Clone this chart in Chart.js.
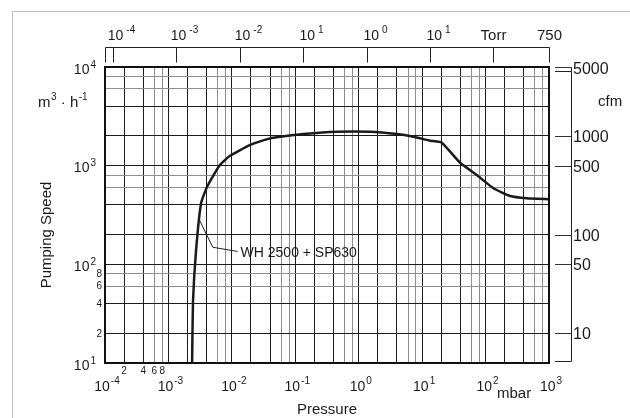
<!DOCTYPE html>
<html>
<head>
<meta charset="utf-8">
<script src="https://cdn.jsdelivr.net/npm/chart.js@4.4.0/dist/chart.umd.min.js"></script>
<style>
  html, body { margin: 0; padding: 0; background: #fff; }
  #wrap { width: 630px; height: 418px; }
</style>
</head>
<body>
<div id="wrap"><canvas id="speedChart" width="630" height="418"></canvas></div>
<script>
// WH 2500 + SP630 pumping speed curve (mbar, m3/h)
const pressureMbar = [2.36e-3, 2.44e-3, 2.73e-3, 3.27e-3, 4.07e-3, 6.2e-3, 8.9e-3, 1.95e-2, 4.0e-2, 5.8e-2,
                      0.135, 0.45, 1.5, 4.0, 7.3, 13.4, 20.4, 39.6, 72.6, 133, 243, 446, 1000];
const speedM3h = [10, 42, 140, 416, 612, 977, 1233, 1622, 1890, 1964,
                  2094, 2209, 2209, 2094, 1964, 1791, 1710, 1071, 805, 590, 493, 468, 457];

// leader line from the curve to its label
const leaderPressure = [3.08e-3, 5.0e-3, 1.23e-2];
const leaderSpeed = [282, 149, 135];
const curveLabel = 'WH 2500 + SP630';

const xDecades = [-4, -3, -2, -1, 0, 1, 2, 3];
const yDecades = [1, 2, 3, 4];
const gridSteps = [1, 2, 4, 6, 8];
const xMinorLabels = [2e-4, 4e-4, 6e-4, 8e-4];
const yMinorLabels = [20, 40, 60, 80];

const torrTicks = [1e-4, 1e-3, 1e-2, 1e-1, 1, 10, 100, 750];
const torrLabels = [['10', '-4'], ['10', '-3'], ['10', '-2'], ['10', '1'], ['10', '0'], ['10', '1'], ['Torr', ''], ['750', '']];
const mbarPerTorr = 1.33322;

const cfmTicks = [5000, 1000, 500, 100, 50, 10];
const m3hPerCfm = 2; // as printed on the sheet

const FONT = '"Liberation Sans", Arial, Helvetica, sans-serif';

function gridValues(decades, max) {
    const out = [];
    decades.forEach(d => {
        gridSteps.forEach(s => {
            const v = s * Math.pow(10, d);
            if (v <= max * 1.0001) out.push(v);
        });
    });
    return out;
}

function gridColor(ctx) {
    const v = ctx.tick.value;
    const m = Math.round(v / Math.pow(10, Math.floor(Math.log10(v) + 1e-9)));
    return m >= 6 ? '#8e8e8e' : '#1c1c1c';
}

function pow(ctx, x, y, base, exp, align, baseSize, expSize, gap, rise) {
    ctx.font = baseSize + 'px ' + FONT;
    const wb = ctx.measureText(base).width;
    ctx.font = expSize + 'px ' + FONT;
    const we = exp ? ctx.measureText(exp).width : 0;
    const total = wb + (exp ? gap + we : 0);
    let x0 = x;
    if (align === 'center') x0 = x - total / 2;
    if (align === 'right') x0 = x - total;
    ctx.textAlign = 'left';
    ctx.textBaseline = 'alphabetic';
    ctx.font = baseSize + 'px ' + FONT;
    ctx.fillText(base, x0, y);
    if (exp) {
        ctx.font = expSize + 'px ' + FONT;
        ctx.fillText(exp, x0 + wb + gap, y - rise);
    }
}

const sheetPlugin = {
    id: 'sheet',
    afterDraw(chart) {
        const ctx = chart.ctx;
        const xs = chart.scales.x;
        const ys = chart.scales.y;
        const area = chart.chartArea;
        ctx.save();

        // light frame of the figure
        ctx.strokeStyle = '#bdbdbd';
        ctx.lineWidth = 1;
        ctx.beginPath();
        ctx.moveTo(12.5, 418);
        ctx.lineTo(12.5, 11.5);
        ctx.lineTo(630, 11.5);
        ctx.stroke();

        // plot border
        ctx.strokeStyle = '#111';
        ctx.lineWidth = 2;
        ctx.strokeRect(area.left, area.top, area.right - area.left, area.bottom - area.top);

        ctx.fillStyle = '#1a1a1a';

        // top Torr axis
        const topY = 47.5, tickEnd = 62.5;
        ctx.strokeStyle = '#222';
        ctx.lineWidth = 1;
        ctx.beginPath();
        ctx.moveTo(Math.round(area.left) + 0.5, tickEnd);
        ctx.lineTo(Math.round(area.left) + 0.5, topY);
        ctx.lineTo(Math.round(xs.getPixelForValue(Math.min(750 * mbarPerTorr, 1000))) + 0.5, topY);
        ctx.stroke();
        torrTicks.forEach((t, i) => {
            const px = Math.round(xs.getPixelForValue(Math.min(t * mbarPerTorr, 1000))) + 0.5;
            ctx.beginPath();
            ctx.moveTo(px, topY);
            ctx.lineTo(px, tickEnd);
            ctx.stroke();
            const lab = torrLabels[i];
            if (lab[1]) {
                pow(ctx, px + 8, 39.5, lab[0], lab[1], 'center', 14, 10, 3, 7);
            } else {
                pow(ctx, px, 39.5, lab[0], '', 'center', 15, 10, 0, 0);
            }
        });

        // right cfm axis
        const axX = 571.5, tickStart = 555;
        ctx.beginPath();
        ctx.moveTo(tickStart, area.top + 0.5);
        ctx.lineTo(axX, area.top + 0.5);
        ctx.lineTo(axX, area.bottom - 1.5);
        ctx.lineTo(tickStart, area.bottom - 1.5);
        ctx.stroke();
        ctx.beginPath();
        ctx.moveTo(tickStart, area.top + 4.5);
        ctx.lineTo(axX, area.top + 4.5);
        ctx.stroke();
        cfmTicks.forEach(c => {
            const py = Math.round(ys.getPixelForValue(c * m3hPerCfm)) + 0.5;
            ctx.strokeStyle = '#333';
            ctx.beginPath();
            ctx.moveTo(tickStart, py);
            ctx.lineTo(axX, py);
            ctx.stroke();
            ctx.font = '16px ' + FONT;
            ctx.textAlign = 'left';
            ctx.textBaseline = 'middle';
            ctx.fillText(String(c), 573, py + (c === 5000 ? 2 : 1));
        });
        ctx.font = '15px ' + FONT;
        ctx.textAlign = 'left';
        ctx.textBaseline = 'alphabetic';
        ctx.fillText('cfm', 598, 106);

        // left axis labels
        yDecades.forEach(d => {
            const py = ys.getPixelForValue(Math.pow(10, d));
            pow(ctx, 96, py + 6.5, '10', String(d), 'right', 14, 10, 1, 6);
        });
        ctx.font = '10px ' + FONT;
        ctx.textAlign = 'right';
        ctx.textBaseline = 'middle';
        yMinorLabels.forEach(v => {
            const py = ys.getPixelForValue(v);
            ctx.fillText(String(v / 10), 102, py + 0.5);
        });

        // unit m3 · h-1
        ctx.textAlign = 'left';
        ctx.textBaseline = 'alphabetic';
        let ux = 38;
        const uy = 106.5;
        ctx.font = '15px ' + FONT;
        ctx.fillText('m', ux, uy); ux += ctx.measureText('m').width + 0.5;
        ctx.font = '10px ' + FONT;
        ctx.fillText('3', ux, uy - 7); ux += ctx.measureText('3').width;
        ctx.font = '15px ' + FONT;
        ctx.fillText(' \u00b7 h', ux, uy); ux += ctx.measureText(' \u00b7 h').width + 0.5;
        ctx.font = '10px ' + FONT;
        ctx.fillText('-1', ux, uy - 7);

        // bottom axis labels
        xDecades.forEach(d => {
            const px = xs.getPixelForValue(Math.pow(10, d));
            pow(ctx, px + 2, 391, '10', String(d), 'center', 14, 10, 1, 7);
        });
        ctx.font = '10px ' + FONT;
        ctx.textAlign = 'center';
        ctx.textBaseline = 'middle';
        xMinorLabels.forEach(v => {
            const px = xs.getPixelForValue(v);
            ctx.fillText(String(Math.round(v / 1e-4)), px, 371);
        });
        ctx.font = '15px ' + FONT;
        ctx.textAlign = 'left';
        ctx.textBaseline = 'alphabetic';
        ctx.fillText('mbar', 497, 398);

        // axis titles
        ctx.font = '15px ' + FONT;
        ctx.textAlign = 'center';
        ctx.fillText('Pressure', 327, 414);
        ctx.save();
        ctx.translate(51, 235);
        ctx.rotate(-Math.PI / 2);
        ctx.fillText('Pumping Speed', 0, 0);
        ctx.restore();

        // curve label at the end of the leader line
        const lx = xs.getPixelForValue(leaderPressure[leaderPressure.length - 1]);
        const ly = ys.getPixelForValue(leaderSpeed[leaderSpeed.length - 1]);
        ctx.font = '14px ' + FONT;
        ctx.textAlign = 'left';
        ctx.textBaseline = 'middle';
        ctx.fillText(curveLabel, lx + 3, ly + 2);

        ctx.restore();
    }
};

new Chart(document.getElementById('speedChart'), {
    type: 'scatter',
    data: {
        datasets: [
            {
                data: pressureMbar.map((p, i) => ({ x: p, y: speedM3h[i] })),
                showLine: true,
                borderColor: '#1a1a1a',
                borderWidth: 2.5,
                pointRadius: 0,
                tension: 0.15
            },
            {
                data: leaderPressure.map((p, i) => ({ x: p, y: leaderSpeed[i] })),
                showLine: true,
                borderColor: '#222',
                borderWidth: 1,
                pointRadius: 0
            }
        ]
    },
    options: {
        responsive: false,
        animation: false,
        devicePixelRatio: 1,
        layout: { padding: { left: 105, right: 81, top: 67, bottom: 55 } },
        plugins: { legend: { display: false }, tooltip: { enabled: false } },
        scales: {
            x: {
                type: 'logarithmic',
                min: 1e-4,
                max: 1e3,
                afterBuildTicks: s => { s.ticks = gridValues(xDecades, 1e3).map(v => ({ value: v })); },
                ticks: { display: false },
                grid: { color: gridColor, lineWidth: 1, drawTicks: false },
                border: { display: false }
            },
            y: {
                type: 'logarithmic',
                min: 10,
                max: 1e4,
                afterBuildTicks: s => { s.ticks = gridValues(yDecades, 1e4).map(v => ({ value: v })); },
                ticks: { display: false },
                grid: { color: gridColor, lineWidth: 1, drawTicks: false },
                border: { display: false }
            }
        }
    },
    plugins: [sheetPlugin]
});
</script>
</body>
</html>
